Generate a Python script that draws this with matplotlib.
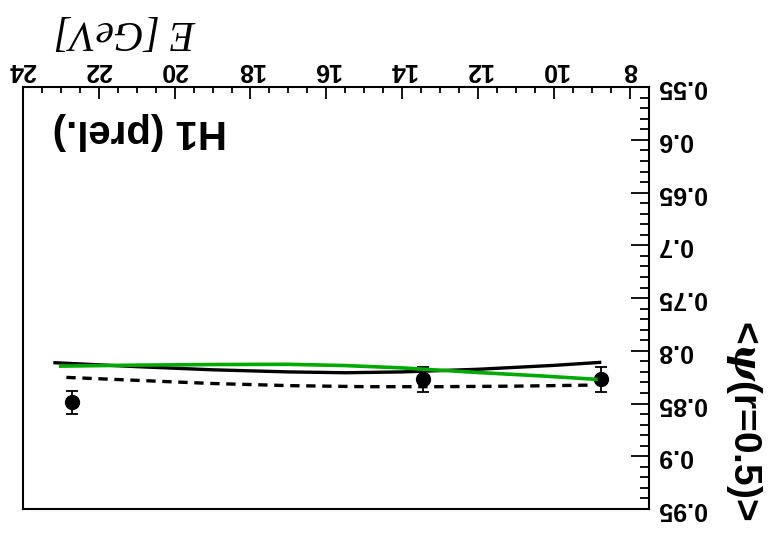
import matplotlib
matplotlib.use("Agg")
import matplotlib.pyplot as plt
from matplotlib import font_manager
from matplotlib.ticker import FixedLocator, MultipleLocator, FormatStrFormatter

plt.rcParams["font.family"] = "Liberation Sans"
plt.rcParams["font.weight"] = "bold"
plt.rcParams["mathtext.fontset"] = "dejavuserif"

bold_fp = font_manager.FontProperties(family="Liberation Sans", weight="bold")

# H1 data points: <psi(r=0.5)> vs E
data_e = [22.7, 13.46, 8.76]
data_psi = [0.849, 0.827, 0.827]
data_err = [0.0105, 0.012, 0.012]

# model curves
solid_e = [23.15, 21.0, 19.0, 17.0, 15.5, 14.0, 12.0, 10.0, 8.8]
solid_psi = [0.8113, 0.8150, 0.8180, 0.8200, 0.8208, 0.8200, 0.8175, 0.8138, 0.8110]

dashed_e = [22.85, 21.0, 19.0, 17.0, 15.0, 13.0, 11.0, 9.0]
dashed_psi = [0.8252, 0.8280, 0.8310, 0.8330, 0.8340, 0.8340, 0.8335, 0.8325]

green_e = [23.0, 21.0, 19.0, 17.0, 15.5, 14.0, 12.0, 10.4, 8.9]
green_psi = [0.8145, 0.8136, 0.8130, 0.8128, 0.8140, 0.8162, 0.8206, 0.8237, 0.8270]

x_ticks = [8, 10, 12, 14, 16, 18, 20, 22, 24]
y_ticks = [0.55, 0.6, 0.65, 0.7, 0.75, 0.8, 0.85, 0.9, 0.95]

fig = plt.figure(figsize=(7.68, 5.34), dpi=100)
ax = fig.add_axes([0.0296, 0.0468, 0.8155, 0.790])

# whole frame is turned by 180 degrees: both axes reversed, labels upside down
ax.set_xlim(24, 7.5)
ax.set_ylim(0.95, 0.55)

ax.errorbar(data_e, data_psi, yerr=data_err, fmt="o", color="black",
            markersize=10, capsize=4, elinewidth=1.3, capthick=1.3, zorder=3)
ax.plot(solid_e, solid_psi, color="black", lw=2.4, zorder=4)
ax.plot(dashed_e, dashed_psi, color="black", lw=2.4, dashes=(2.8, 2.0), zorder=4)
ax.plot(green_e, green_psi, color="#00aa00", lw=2.6, zorder=5)

ax.xaxis.tick_top()
ax.yaxis.tick_right()
ax.xaxis.set_major_locator(FixedLocator(x_ticks))
ax.xaxis.set_minor_locator(MultipleLocator(0.5))
ax.yaxis.set_major_locator(FixedLocator(y_ticks))
ax.yaxis.set_minor_locator(MultipleLocator(0.01))
ax.xaxis.set_major_formatter(FormatStrFormatter("%g"))
ax.yaxis.set_major_formatter(FormatStrFormatter("%g"))

ax.tick_params(axis="x", which="major", direction="in", length=8.6, width=1.3,
               labelsize=18, labelrotation=180, pad=4)
ax.tick_params(axis="x", which="minor", direction="in", length=4.3, width=1.3)
ax.tick_params(axis="y", which="major", direction="in", length=13, width=1.3,
               labelsize=18, labelrotation=180, pad=6)
ax.tick_params(axis="y", which="minor", direction="in", length=6.5, width=1.3)
for lab in ax.get_yticklabels():
    lab.set_va("center")

for s in ax.spines.values():
    s.set_linewidth(1.5)

fig.text(125 / 768, 1 - 31 / 534, "E [GeV]", family="Liberation Serif",
         style="italic", weight="normal", fontsize=30, rotation=180,
         ha="center", va="center")
fig.text(140 / 768, 1 - 131 / 534, "H1 (prel.)", fontproperties=bold_fp,
         fontsize=29, rotation=180, ha="center", va="center")
fig.text(744 / 768, 1 - 420 / 534, r"<$\psi$(r=0.5)>", fontproperties=bold_fp,
         fontsize=28, rotation=270, ha="center", va="center")

fig.savefig("out.png", dpi=100, facecolor="white")
